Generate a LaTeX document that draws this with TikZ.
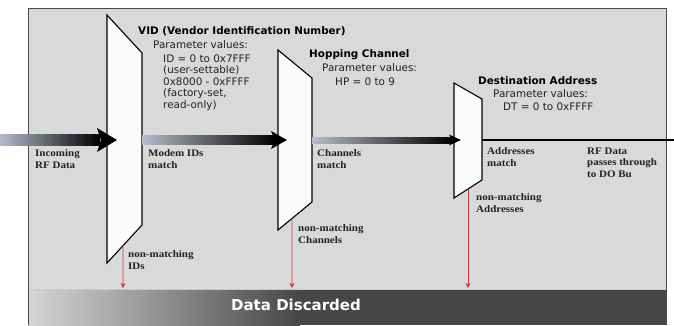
\documentclass[tikz,border=0pt]{standalone}
\usepackage{fontspec}
\setmainfont{Liberation Serif}
\setsansfont{DejaVu Sans}
\newfontfamily\lblfont[FakeStretch=1.1]{Liberation Serif}
\usetikzlibrary{arrows.meta,calc}
\definecolor{panelgray}{HTML}{D9D9D9}
\definecolor{panelline}{HTML}{4A4A4A}
\definecolor{bandlight}{HTML}{D6D6D6}
\definecolor{banddark}{HTML}{474747}
\definecolor{shaftL}{HTML}{B4BCCC}
\definecolor{shaftM}{HTML}{707888}
\definecolor{dropred}{HTML}{C83C3C}
\definecolor{txt}{HTML}{222222}
\tikzset{
  filterbox/.style={draw=black, line width=1.1pt, fill=white!97!gray, line join=miter},
  shaftshade/.style={left color=shaftL, middle color=shaftM, right color=black, draw=none},
  headfill/.style={fill=black, draw=none},
  droparrow/.style={draw=dropred, line width=0.9pt, -{Stealth[length=5pt,width=5pt,inset=1.5pt]}},
  titletext/.style={font=\sffamily\bfseries\fontsize{10.4}{12}\selectfont, text=black, inner sep=0pt, anchor=base west},
  paramtext/.style={font=\sffamily\fontsize{10.4}{11.5}\selectfont, text=txt, inner sep=0pt, anchor=base west, align=left},
  labeltext/.style={font=\lblfont\bfseries\fontsize{10}{11.2}\selectfont, text=txt, inner sep=0pt, anchor=base west, align=left},
  bandtext/.style={font=\sffamily\bfseries\fontsize{15}{18}\selectfont, text=white, inner sep=0pt}
}
\begin{document}
\begin{tikzpicture}[x=1pt,y=-1pt]
\useasboundingbox (0,0) rectangle (674,325);
\fill[white] (0,0) rectangle (674,325);
% panel and band
\fill[panelgray] (28,8) rectangle (666,289);
\shade[left color=bandlight, right color=banddark] (28,289) rectangle (300,325);
\fill[banddark] (299.5,289) rectangle (666,325);
\draw[white!80!black, line width=0.8pt] (28,289) -- (666,289);
\draw[panelline, line width=1pt] (28,325) -- (28,8) -- (666,8) -- (666,325);
\node[bandtext] (discard) at (296,305) {Data Discarded};
% filters
\path[filterbox] (107,15) coordinate (f1tl) -- (142,53) coordinate (f1tr) -- (142,225) coordinate (f1br) -- (107,263) coordinate (f1bl) -- cycle;
\path[filterbox] (278,50) coordinate (f2tl) -- (312,78) coordinate (f2tr) -- (312,202) coordinate (f2br) -- (278,230) coordinate (f2bl) -- cycle;
\path[filterbox] (454,83) coordinate (f3tl) -- (482,99) coordinate (f3tr) -- (482,180) coordinate (f3br) -- (454,198) coordinate (f3bl) -- cycle;
% data arrows
\coordinate (in) at (0,140);
\coordinate (out) at (674,140);
% arrow 1
\shade[shaftshade] (in) ++(0,-5.5) rectangle (100,145.5);
\fill[headfill] (97,128) -- (117,140) -- (97,152) -- (101,140) -- cycle;
% arrow 2
\shade[shaftshade] (f1tr |- in) ++(0,-4.5) rectangle (275,144.5);
\fill[headfill] (271,131) -- (287,140) -- (271,149) -- (275,140) -- cycle;
% arrow 3
\shade[shaftshade] (f2tr |- in) ++(0,-3) rectangle (452,143);
\fill[headfill] (449,134.5) -- (461,140) -- (449,145.5) -- (452,140) -- cycle;
% pass-through line
\draw[black, line width=2pt] (f3tr |- in) -- (out);
% drops
\coordinate (d1) at ($(f1br)!0.543!(f1bl)$);
\coordinate (d2) at ($(f2br)!0.588!(f2bl)$);
\coordinate (d3) at ($(f3br)!0.5!(f3bl)$);
\coordinate (e1) at (123,288);
\coordinate (e2) at (292,288);
\coordinate (e3) at (468,288);
\draw[droparrow] (d1) -- (e1);
\draw[droparrow] (d2) -- (e2);
\draw[droparrow] (d3) -- (e3);
% titles and parameters (base anchor = last line baseline)
\node[titletext] (t1) at (138,34) {VID (Vendor Identification Number)};
\node[paramtext] (p1) at (153,48) {Parameter values:};
\node[paramtext] (v1) at (163,108) {ID = 0 to 0x7FFF\\(user-settable)\\0x8000 - 0xFFFF\\(factory-set,\\read-only)};
\node[titletext] (t2) at (309,57) {Hopping Channel};
\node[paramtext] (p2) at (322,71) {Parameter values:};
\node[paramtext] (v2) at (335,85) {HP = 0 to 9};
\node[titletext] (t3) at (478,84) {Destination Address};
\node[paramtext] (p3) at (493,97) {Parameter values:};
\node[paramtext] (v3) at (503,110) {DT = 0 to 0xFFFF};
% labels
\node[labeltext] (l0) at (35,168) {Incoming\\RF Data};
\node[labeltext] (l1) at (148,168) {Modem IDs\\match};
\node[labeltext] (l2) at (317,168) {Channels\\match};
\node[labeltext] (l3) at (487,166) {Addresses\\match};
\node[labeltext] (l4) at (587,177) {RF Data\\passes through\\to DO Bu};
\node[labeltext] (n1) at (128,269) {non-matching\\IDs};
\node[labeltext] (n2) at (298,243) {non-matching\\Channels};
\node[labeltext] (n3) at (476,212) {non-matching\\Addresses};
\end{tikzpicture}
\end{document}
